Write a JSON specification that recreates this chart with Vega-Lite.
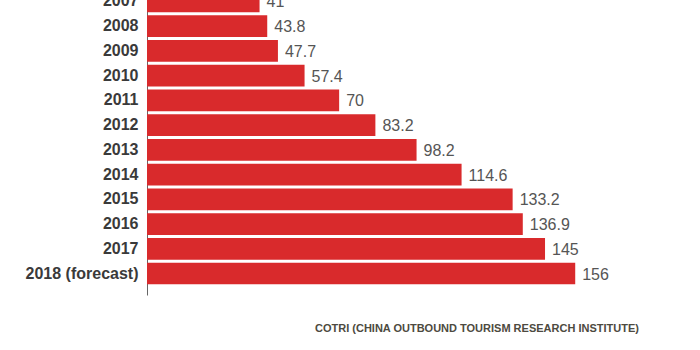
{
  "$schema": "https://vega.github.io/schema/vega-lite/v6.json",
  "autosize": {"type": "none"},
  "padding": {"left": 147, "top": -20, "right": 4, "bottom": 55},
  "width": 549,
  "height": 315,
  "background": "white",
  "config": {"view": {"stroke": null}},
  "title": {
    "text": "COTRI (CHINA OUTBOUND TOURISM RESEARCH INSTITUTE)",
    "orient": "bottom",
    "anchor": "start",
    "frame": "group",
    "dx": 168,
    "offset": 28,
    "font": "Liberation Sans",
    "fontSize": 11,
    "fontWeight": "bold",
    "color": "#4d4a40"
  },
  "data": {
    "values": [
      {"year": "2007", "value": 41},
      {"year": "2008", "value": 43.8},
      {"year": "2009", "value": 47.7},
      {"year": "2010", "value": 57.4},
      {"year": "2011", "value": 70},
      {"year": "2012", "value": 83.2},
      {"year": "2013", "value": 98.2},
      {"year": "2014", "value": 114.6},
      {"year": "2015", "value": 133.2},
      {"year": "2016", "value": 136.9},
      {"year": "2017", "value": 145},
      {"year": "2018 (forecast)", "value": 156}
    ]
  },
  "encoding": {
    "y": {
      "field": "year",
      "type": "nominal",
      "sort": null,
      "scale": {"paddingInner": 0.126, "paddingOuter": 0.43},
      "axis": {
        "title": null,
        "ticks": false,
        "labelPadding": 9,
        "labelFont": "Liberation Sans",
        "labelFontSize": 16,
        "labelFontWeight": "bold",
        "labelColor": "#3a3a3a",
        "domainColor": "#666666",
        "domainWidth": 1
      }
    },
    "x": {
      "field": "value",
      "type": "quantitative",
      "scale": {"domain": [0, 200], "nice": false},
      "axis": null
    }
  },
  "layer": [
    {"mark": {"type": "bar", "color": "#d92a2c"}},
    {
      "mark": {
        "type": "text",
        "align": "left",
        "baseline": "middle",
        "dx": 7,
        "dy": 1,
        "font": "Liberation Sans",
        "fontSize": 16,
        "color": "#555555"
      },
      "encoding": {"text": {"field": "value", "type": "quantitative"}}
    }
  ]
}
